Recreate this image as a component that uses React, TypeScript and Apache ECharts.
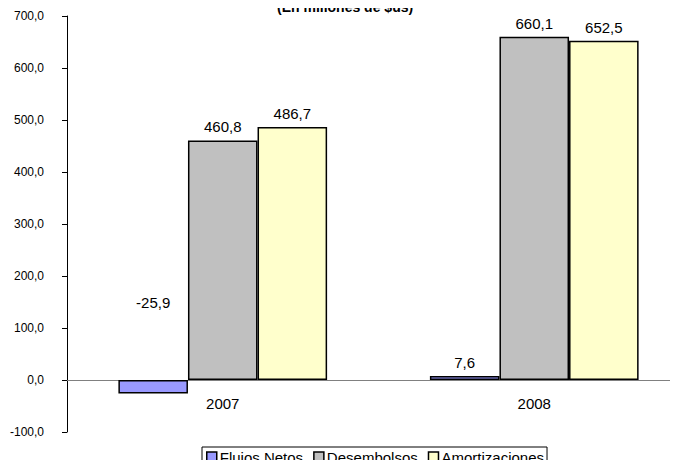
import React, { useEffect, useRef } from "react";
import * as echarts from "echarts";

const categories = ["2007", "2008"];
const seriesNames = ["Flujos Netos", "Desembolsos", "Amortizaciones"];
const flujosNetos = [-25.9, 7.6];
const desembolsos = [460.8, 660.1];
const amortizaciones = [486.7, 652.5];
const titleText = "(En millones de $us)";
const colors = ["#9999FF", "#C0C0C0", "#FFFFCC"];

const fmt = (v: number) => v.toFixed(1).replace(".", ",");
const FONT = "Liberation Sans, Arial, sans-serif";

export default function App() {
  const ref = useRef<HTMLDivElement>(null);
  useEffect(() => {
    if (!ref.current) return;
    const chart = echarts.init(ref.current, undefined, { renderer: "svg" });
    const label = {
      show: true,
      position: "top" as const,
      distance: 6,
      color: "#000",
      fontSize: 15,
      fontFamily: FONT,
      formatter: (p: any) => fmt(p.value),
    };
    const mk = (name: string, data: number[], i: number) => ({
      name,
      type: "bar",
      data: data.map((v) =>
        v < 0 ? { value: v, label: { offset: [0, -64] } } : v
      ),
      barGap: "0%",
      barCategoryGap: "33%",
      itemStyle: { color: colors[i], borderColor: "#000", borderWidth: 1.5 },
      label,
    });
    chart.setOption({
      animation: false,
      textStyle: { fontFamily: FONT },
      title: {
        text: titleText,
        left: 277,
        top: 0,
        padding: 0,
        textStyle: { fontSize: 14, lineHeight: 14, fontWeight: "bold", color: "#000", fontFamily: FONT },
      },
      grid: { left: 67, right: 0, top: 16, bottom: 36, containLabel: false },
      legend: {
        data: seriesNames,
        top: 447,
        left: 202,
        itemWidth: 10,
        itemHeight: 10,
        itemGap: 10,
        icon: "rect",
        padding: [2, 3, 2, 4],
        borderColor: "#000",
        borderWidth: 1,
        itemStyle: { borderColor: "#000", borderWidth: 1.5 },
        textStyle: { fontSize: 15, lineHeight: 16, color: "#000", fontFamily: FONT, padding: [0, 0, 0, -2] },
      },
      xAxis: {
        type: "category",
        data: categories,
        axisLine: { onZero: true, lineStyle: { color: "#808080", width: 1 } },
        axisTick: { show: false },
        axisLabel: { margin: -36, fontSize: 15, color: "#000", fontFamily: FONT },
      },
      yAxis: {
        type: "value",
        min: -100,
        max: 700,
        interval: 100,
        splitLine: { show: false },
        axisLine: { show: true, lineStyle: { color: "#000", width: 1 } },
        axisTick: { show: true, length: 5, lineStyle: { color: "#000" } },
        axisLabel: {
          fontSize: 12,
          color: "#000",
          fontFamily: FONT,
          margin: 23,
          formatter: (v: number) => fmt(v),
        },
      },
      series: [
        mk(seriesNames[0], flujosNetos, 0),
        mk(seriesNames[1], desembolsos, 1),
        mk(seriesNames[2], amortizaciones, 2),
      ],
    });
    return () => chart.dispose();
  }, []);
  return (
    <div style={{ width: 678, height: 468, margin: -8, overflow: "hidden" }}>
      <div ref={ref} style={{ width: 690, height: 468 }} />
    </div>
  );
}
